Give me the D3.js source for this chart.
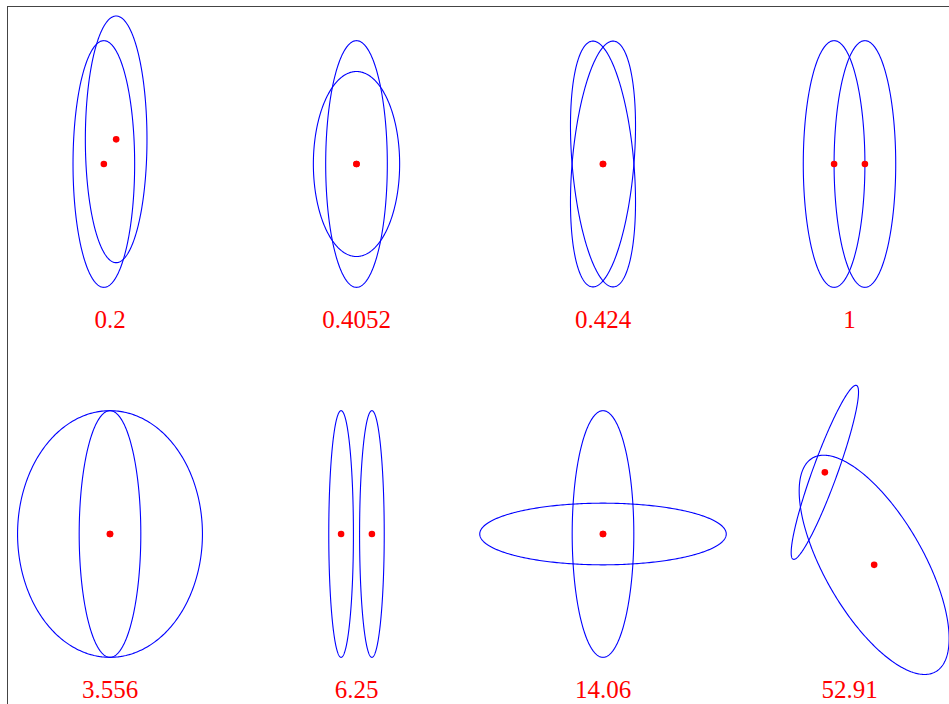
<!DOCTYPE html>
<html>
<head>
<meta charset="utf-8">
<script src="https://cdn.jsdelivr.net/npm/d3@7"></script>
<style>
  html, body { margin: 0; padding: 0; background: #fff; }
  svg { display: block; }
</style>
</head>
<body>
<svg id="chart" width="949" height="704"></svg>
<script>
// Pairs of 2-D Gaussians, drawn as 1-sigma ellipses, with the symmetric KL divergence below each pair.
const panelLabels = ["0.2", "0.4052", "0.424", "1", "3.556", "6.25", "14.06", "52.91"];
const panelCol = [0, 1, 2, 3, 0, 1, 2, 3];
const panelRow = [0, 0, 0, 0, 1, 1, 1, 1];

// Gaussian A
const meanA = [[-0.2, 0], [0, 0], [0, 0], [-0.5, 0], [0, 0], [-0.5, 0], [0, 0], [-0.8, 2]];
const sdA = [[1, 4], [1, 4], [1, 4], [1, 4], [1, 4], [0.4, 4], [1, 4], [0.4, 3]];
const angleA = [0, 0, 5, 0, 0, 0, 0, -20];

// Gaussian B
const meanB = [[0.2, 0.8], [0, 0], [0, 0], [0.5, 0], [0, 0], [0.5, 0], [0, 0], [0.8, -1]];
const sdB = [[1, 4], [1.4, 3], [1, 4], [1, 4], [3, 4], [0.4, 4], [4, 1], [1.6, 4]];
const angleB = [0, 0, -5, 0, 0, 0, 0, 30];

const colSpacing = 8, rowSpacing = 12, labelDrop = 5.33;

const svg = d3.select("#chart");

const x = d3.scaleLinear().domain([0, 24]).range([110, 849.5]);
const y = d3.scaleLinear().domain([0, -12]).range([164, 534]);

// frame
svg.append("rect")
  .attr("x", 7.5).attr("y", 6.5)
  .attr("width", 1200).attr("height", 1200)
  .attr("fill", "none").attr("stroke", "#444").attr("stroke-width", 1);

const line = d3.line().x(d => x(d[0])).y(d => y(d[1])).curve(d3.curveLinearClosed);

function ellipsePoints(cx, cy, m, s, deg) {
  const th = deg * Math.PI / 180, c = Math.cos(th), sn = Math.sin(th);
  return d3.range(0, 360, 1).map(i => {
    const t = i * Math.PI / 180;
    const ex = s[0] * Math.cos(t), ey = s[1] * Math.sin(t);
    return [cx + m[0] + c * ex - sn * ey, cy + m[1] + sn * ex + c * ey];
  });
}

const panels = panelLabels.map((lab, i) => ({
  label: lab,
  cx: panelCol[i] * colSpacing,
  cy: -panelRow[i] * rowSpacing,
  g: [
    { m: meanA[i], s: sdA[i], a: angleA[i] },
    { m: meanB[i], s: sdB[i], a: angleB[i] }
  ]
}));

const pg = svg.selectAll("g.panel").data(panels).join("g").attr("class", "panel");

pg.selectAll("path.ell").data(p => p.g.map(g => ({ p, g }))).join("path")
  .attr("class", "ell")
  .attr("d", d => line(ellipsePoints(d.p.cx, d.p.cy, d.g.m, d.g.s, d.g.a)))
  .attr("fill", "none")
  .attr("stroke", "#0000ff")
  .attr("stroke-width", 1.1);

pg.selectAll("circle.mean").data(p => p.g.map(g => ({ p, g }))).join("circle")
  .attr("class", "mean")
  .attr("cx", d => x(d.p.cx + d.g.m[0]))
  .attr("cy", d => y(d.p.cy + d.g.m[1]))
  .attr("r", 3.3)
  .attr("fill", "#ff0000");

pg.append("text")
  .attr("x", d => x(d.cx))
  .attr("y", d => y(d.cy - labelDrop))
  .attr("text-anchor", "middle")
  .attr("font-family", "'Liberation Serif', serif")
  .attr("font-size", 25)
  .attr("fill", "#ff0000")
  .text(d => d.label);
</script>
</body>
</html>
